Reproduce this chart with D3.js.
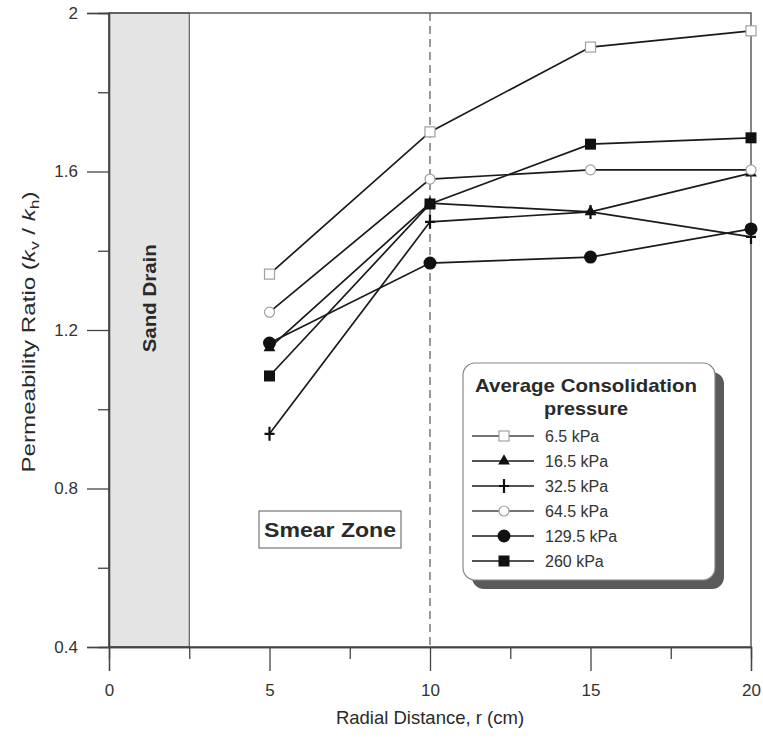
<!DOCTYPE html>
<html>
<head>
<meta charset="utf-8">
<script src="https://cdn.jsdelivr.net/npm/d3@7"></script>
<style>
  body { margin: 0; background: #fff; }
  svg { display: block; font-family: "Liberation Sans", Arial, sans-serif; }
</style>
</head>
<body>
<svg id="chart" width="763" height="744"></svg>
<script>
// Radial positions (cm) where permeability ratio was measured
const radii = [5, 10, 15, 20];

// Pressure series labels and kv/kh ratios at each radius
const pressures = ["6.5 kPa", "16.5 kPa", "32.5 kPa", "64.5 kPa", "129.5 kPa", "260 kPa"];
const ratio65  = [1.341, 1.700, 1.914, 1.955];
const ratio165 = [1.155, 1.520, 1.498, 1.596];
const ratio325 = [0.938, 1.473, 1.498, 1.435];
const ratio645 = [1.245, 1.581, 1.604, 1.604];
const ratio1295 = [1.167, 1.369, 1.384, 1.455];
const ratio260 = [1.084, 1.518, 1.669, 1.685];
const markerKinds = ["openSquare", "triangle", "plus", "openCircle", "circle", "square"];

// Axis ticks
const xTicks = [0, 5, 10, 15, 20];
const xMinor = [2.5, 7.5, 12.5, 17.5];
const yTicks = [0.4, 0.8, 1.2, 1.6, 2];
const yMinor = [0.6, 1.0, 1.4, 1.8];

// Zones
const sandDrainEdge = 2.5;
const smearEdge = 10;

const seriesValues = [ratio65, ratio165, ratio325, ratio645, ratio1295, ratio260];
const series = pressures.map((name, i) => ({
  name, kind: markerKinds[i],
  points: radii.map((r, j) => ({ r, v: seriesValues[i][j] }))
}));

const svg = d3.select("#chart");
const plotLeft = 109, plotRight = 751, plotTop = 13, plotBottom = 647;
const x = d3.scaleLinear().domain([0, 20]).range([plotLeft, plotRight]);
const y = d3.scaleLinear().domain([0.4, 2]).range([plotBottom, plotTop]);

const axisColor = "#444";
const textColor = "#2a2a2a";

// Sand drain band
svg.append("rect")
  .attr("x", x(0)).attr("y", y(2))
  .attr("width", x(sandDrainEdge) - x(0)).attr("height", y(0.4) - y(2))
  .attr("fill", "#e4e4e4").attr("stroke", axisColor).attr("stroke-width", 1);

svg.append("text")
  .attr("transform", `translate(${(x(0) + x(sandDrainEdge)) / 2 + 7},${y(1.28)}) rotate(-90)`)
  .attr("text-anchor", "middle")
  .attr("font-size", 19).attr("font-weight", "bold").attr("fill", textColor)
  .attr("textLength", 108).attr("lengthAdjust", "spacingAndGlyphs")
  .text("Sand Drain");

// Smear zone boundary
svg.append("line")
  .attr("x1", x(smearEdge)).attr("x2", x(smearEdge))
  .attr("y1", y(2)).attr("y2", y(0.4))
  .attr("stroke", "#555").attr("stroke-width", 1.2)
  .attr("stroke-dasharray", "8,5");

// Frame
svg.append("rect")
  .attr("x", plotLeft).attr("y", plotTop)
  .attr("width", plotRight - plotLeft).attr("height", plotBottom - plotTop)
  .attr("fill", "none").attr("stroke", axisColor).attr("stroke-width", 1.3);

// Axes
svg.append("g").attr("transform", `translate(0,${plotBottom})`)
  .call(d3.axisBottom(x).tickValues(xTicks).tickSize(24).tickPadding(13).tickFormat(d3.format("d")));
svg.append("g").attr("transform", `translate(0,${plotBottom})`)
  .call(d3.axisBottom(x).tickValues(xMinor).tickSize(12).tickFormat(""));
svg.append("g").attr("transform", `translate(${plotLeft},0)`)
  .call(d3.axisLeft(y).tickValues(yTicks).tickSize(22).tickPadding(9).tickFormat(d => d === 2 ? "2" : d3.format(".1f")(d)));
svg.append("g").attr("transform", `translate(${plotLeft},0)`)
  .call(d3.axisLeft(y).tickValues(yMinor).tickSize(11).tickFormat(""));

svg.selectAll(".domain").attr("stroke", axisColor).attr("stroke-width", 1.3);
svg.selectAll(".tick line").attr("stroke", axisColor).attr("stroke-width", 1.3);
svg.selectAll(".tick text").attr("font-size", 17).attr("fill", "#333")
  .attr("font-family", "'Liberation Sans', Arial, sans-serif");

// Axis titles
svg.append("text")
  .attr("x", x(10)).attr("y", 724)
  .attr("text-anchor", "middle").attr("font-size", 18.5).attr("fill", textColor)
  .text("Radial Distance, r (cm)");

const yTitle = svg.append("text")
  .attr("transform", `translate(35,${y(1.195)}) rotate(-90)`)
  .attr("text-anchor", "middle").attr("font-size", 18).attr("fill", textColor)
  .attr("textLength", 281).attr("lengthAdjust", "spacingAndGlyphs");
yTitle.append("tspan").text("Permeability Ratio (");
yTitle.append("tspan").attr("font-style", "italic").text("k");
yTitle.append("tspan").attr("font-size", 13).attr("dy", 4).text("v");
yTitle.append("tspan").attr("dy", -4).text(" / ");
yTitle.append("tspan").attr("font-style", "italic").text("k");
yTitle.append("tspan").attr("font-size", 13).attr("dy", 4).text("h");
yTitle.append("tspan").attr("dy", -4).text(")");

// Smear zone label
const smear = svg.append("g");
smear.append("text")
  .attr("x", 330).attr("y", 537)
  .attr("text-anchor", "middle").attr("font-size", 20).attr("font-weight", "bold")
  .attr("fill", textColor)
  .attr("textLength", 132).attr("lengthAdjust", "spacingAndGlyphs")
  .text("Smear Zone");
smear.insert("rect", "text")
  .attr("x", 259).attr("y", 511)
  .attr("width", 142).attr("height", 37)
  .attr("fill", "#fff").attr("stroke", "#777").attr("stroke-width", 1.2);

// Marker drawing
function drawMarker(g, kind, cx, cy) {
  const dark = "#111", light = "#a0a0a0";
  switch (kind) {
    case "openSquare":
      g.append("rect").attr("x", cx - 5).attr("y", cy - 5).attr("width", 10).attr("height", 10)
        .attr("fill", "#fff").attr("stroke", light).attr("stroke-width", 1.2);
      break;
    case "square":
      g.append("rect").attr("x", cx - 5.5).attr("y", cy - 5.5).attr("width", 11).attr("height", 11)
        .attr("fill", dark);
      break;
    case "openCircle":
      g.append("circle").attr("cx", cx).attr("cy", cy).attr("r", 5)
        .attr("fill", "#fff").attr("stroke", light).attr("stroke-width", 1.2);
      break;
    case "circle":
      g.append("circle").attr("cx", cx).attr("cy", cy).attr("r", 6.5).attr("fill", dark);
      break;
    case "triangle":
      g.append("path").attr("d", d3.symbol(d3.symbolTriangle, 60)())
        .attr("transform", `translate(${cx},${cy})`).attr("fill", dark);
      break;
    case "plus":
      g.append("path").attr("d", `M${cx - 5},${cy}H${cx + 5}M${cx},${cy - 7}V${cy + 7}`)
        .attr("stroke", dark).attr("stroke-width", 2.2).attr("fill", "none");
      break;
  }
}

// Series lines and markers
const line = d3.line().x(d => x(d.r)).y(d => y(d.v));
const plot = svg.append("g");
series.forEach(s => {
  plot.append("path").datum(s.points).attr("d", line)
    .attr("fill", "none").attr("stroke", "#1a1a1a").attr("stroke-width", 1.7);
});
series.forEach(s => {
  const g = plot.append("g");
  s.points.forEach(p => drawMarker(g, s.kind, x(p.r), y(p.v)));
});

// Legend
const lg = svg.append("g");
const lx = 463, ly = 363, lw = 252, lh = 217;
lg.append("rect").attr("x", lx + 9).attr("y", ly + 9).attr("width", lw).attr("height", lh)
  .attr("rx", 12).attr("fill", "#5a5a5a");
lg.append("rect").attr("x", lx).attr("y", ly).attr("width", lw).attr("height", lh)
  .attr("rx", 12).attr("fill", "#fff").attr("stroke", "#888").attr("stroke-width", 1.2);
lg.append("text").attr("x", lx + 123).attr("y", ly + 29)
  .attr("text-anchor", "middle").attr("font-size", 19).attr("font-weight", "bold").attr("fill", textColor)
  .attr("textLength", 222).attr("lengthAdjust", "spacingAndGlyphs")
  .text("Average Consolidation");
lg.append("text").attr("x", lx + 123).attr("y", ly + 52)
  .attr("text-anchor", "middle").attr("font-size", 19).attr("font-weight", "bold").attr("fill", textColor)
  .attr("textLength", 84).attr("lengthAdjust", "spacingAndGlyphs")
  .text("pressure");
series.forEach((s, i) => {
  const cy = 436 + i * 25;
  lg.append("line").attr("x1", lx + 9).attr("x2", lx + 71).attr("y1", cy).attr("y2", cy)
    .attr("stroke", s.kind === "openSquare" || s.kind === "openCircle" ? "#444" : "#1a1a1a")
    .attr("stroke-width", 1.7);
  drawMarker(lg, s.kind, lx + 41, cy);
  lg.append("text").attr("x", lx + 82).attr("y", cy + 6)
    .attr("font-size", 16).attr("fill", "#333").text(s.name);
});
</script>
</body>
</html>
